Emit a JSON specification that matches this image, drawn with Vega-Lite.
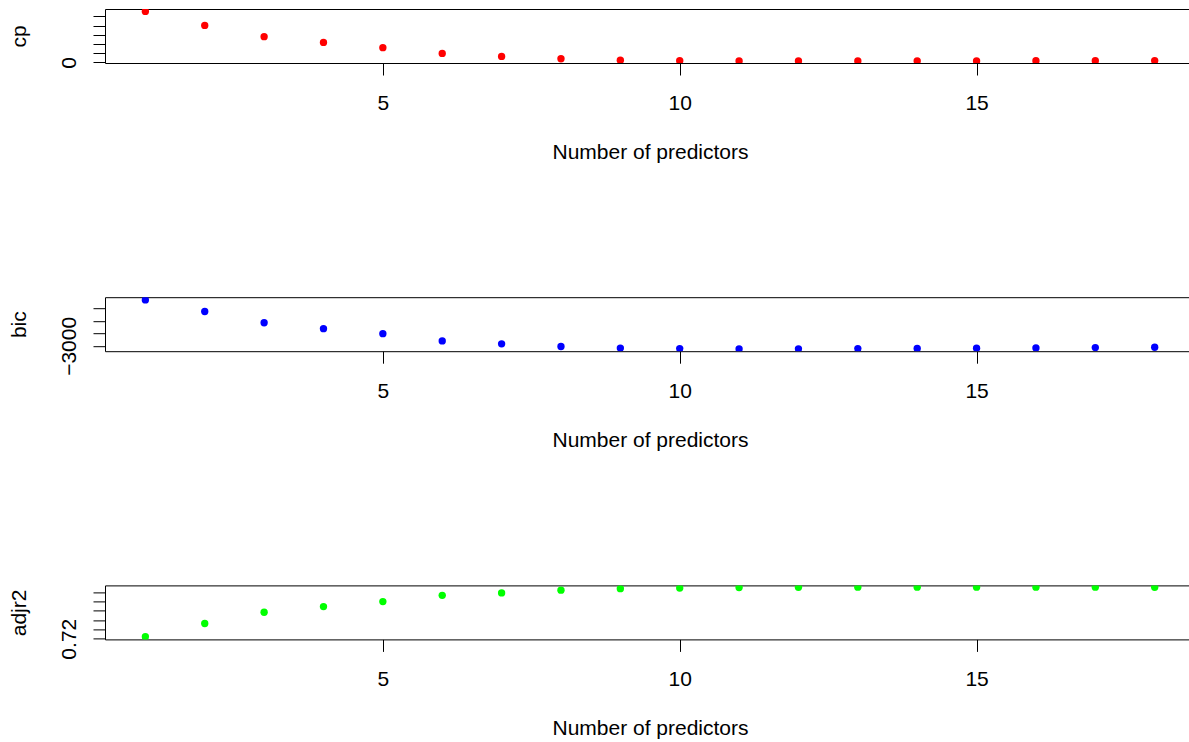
{
  "$schema": "https://vega.github.io/schema/vega-lite/v6.json",
  "background": "white",
  "autosize": {"type": "pad"},
  "padding": {"left": 8, "top": 9, "right": 0, "bottom": 0},
  "config": {
    "view": {"stroke": null},
    "font": "Liberation Sans",
    "axis": {
      "grid": false,
      "domainColor": "black",
      "tickColor": "black",
      "labelColor": "black",
      "titleColor": "black",
      "labelFont": "Liberation Sans",
      "titleFont": "Liberation Sans",
      "labelFontSize": 21,
      "titleFontSize": 21,
      "titleFontWeight": "normal",
      "tickSize": 12,
      "domainWidth": 1,
      "tickWidth": 1,
      "zindex": 1
    }
  },
  "datasets": {
    "d": [
      {"k": 1, "cp": 1109, "bic": -2269, "adjr2": 0.7243},
      {"k": 2, "cp": 804, "bic": -2454, "adjr2": 0.7526},
      {"k": 3, "cp": 559, "bic": -2632, "adjr2": 0.7766},
      {"k": 4, "cp": 435, "bic": -2727, "adjr2": 0.7887},
      {"k": 5, "cp": 320, "bic": -2806, "adjr2": 0.7994},
      {"k": 6, "cp": 196, "bic": -2921, "adjr2": 0.8128},
      {"k": 7, "cp": 130, "bic": -2968, "adjr2": 0.8179},
      {"k": 8, "cp": 80, "bic": -3011, "adjr2": 0.8238},
      {"k": 9, "cp": 48, "bic": -3035, "adjr2": 0.8270},
      {"k": 10, "cp": 37, "bic": -3043, "adjr2": 0.8285},
      {"k": 11, "cp": 33, "bic": -3050, "adjr2": 0.8296},
      {"k": 12, "cp": 30, "bic": -3047, "adjr2": 0.8300},
      {"k": 13, "cp": 30, "bic": -3044, "adjr2": 0.8302},
      {"k": 14, "cp": 31, "bic": -3041, "adjr2": 0.8303},
      {"k": 15, "cp": 32, "bic": -3038, "adjr2": 0.8303},
      {"k": 16, "cp": 35, "bic": -3033, "adjr2": 0.8302},
      {"k": 17, "cp": 37, "bic": -3028, "adjr2": 0.8302},
      {"k": 18, "cp": 39, "bic": -3022, "adjr2": 0.8301}
    ]
  },
  "spacing": 234.2,
  "bounds": "flush",
  "vconcat": [
    {
      "width": 1084,
      "height": 54,
      "data": {"name": "d"},
      "resolve": {"axis": {"x": "independent"}},
      "layer": [
        {
          "mark": {"type": "point", "filled": true, "size": 54, "color": "#FF0000", "opacity": 1, "clip": true},
          "encoding": {
            "x": {"field": "k", "type": "quantitative",
              "scale": {"domain": [0.32, 18.578], "nice": false, "zero": false},
              "axis": {"orient": "bottom", "values": [5, 10, 15], "title": "Number of predictors",
                "labelPadding": 34.5, "labelBaseline": "alphabetic", "labelFlush": false, "labelOverlap": false,
                "titleX": 545, "titleY": 95, "titleAlign": "center", "titleBaseline": "alphabetic", "titleAnchor": "middle"}},
            "y": {"field": "cp", "type": "quantitative",
              "scale": {"domain": [-13, 1161], "nice": false, "zero": false},
              "axis": {"orient": "left", "values": [0, 200, 400, 600, 800, 1000], "labelExpr": "datum.value == 0 ? '0' : ''",
                "labelAngle": 270, "labelAlign": "center", "labelBaseline": "alphabetic", "labelPadding": 18, "labelOverlap": false, "labelFlush": false,
                "title": "cp", "titleX": -80, "titleY": 27, "titleAngle": 270, "titleAlign": "center", "titleBaseline": "alphabetic"}}
          }
        },
        {
          "mark": {"type": "point", "opacity": 0, "clip": true},
          "encoding": {
            "x": {"field": "k", "type": "quantitative", "axis": {"orient": "top", "labels": false, "ticks": false, "title": null, "domain": true}}
          }
        }
      ]
    },
    {
      "width": 1084,
      "height": 54,
      "data": {"name": "d"},
      "resolve": {"axis": {"x": "independent"}},
      "layer": [
        {
          "mark": {"type": "point", "filled": true, "size": 54, "color": "#0000FF", "opacity": 1, "clip": true},
          "encoding": {
            "x": {"field": "k", "type": "quantitative",
              "scale": {"domain": [0.32, 18.578], "nice": false, "zero": false},
              "axis": {"orient": "bottom", "values": [5, 10, 15], "title": "Number of predictors",
                "labelPadding": 34.5, "labelBaseline": "alphabetic", "labelFlush": false, "labelOverlap": false,
                "titleX": 545, "titleY": 95, "titleAlign": "center", "titleBaseline": "alphabetic", "titleAnchor": "middle"}},
            "y": {"field": "bic", "type": "quantitative",
              "scale": {"domain": [-3085, -2226], "nice": false, "zero": false},
              "axis": {"orient": "left", "values": [-3000, -2800, -2600, -2400], "labelExpr": "datum.value == -3000 ? '−3000' : ''",
                "labelAngle": 270, "labelAlign": "center", "labelBaseline": "alphabetic", "labelPadding": 18, "labelOverlap": false, "labelFlush": false,
                "title": "bic", "titleX": -80, "titleY": 27, "titleAngle": 270, "titleAlign": "center", "titleBaseline": "alphabetic"}}
          }
        },
        {
          "mark": {"type": "point", "opacity": 0, "clip": true},
          "encoding": {
            "x": {"field": "k", "type": "quantitative", "axis": {"orient": "top", "labels": false, "ticks": false, "title": null, "domain": true}}
          }
        }
      ]
    },
    {
      "width": 1084,
      "height": 54,
      "data": {"name": "d"},
      "resolve": {"axis": {"x": "independent"}},
      "layer": [
        {
          "mark": {"type": "point", "filled": true, "size": 54, "color": "#00FF00", "opacity": 1, "clip": true},
          "encoding": {
            "x": {"field": "k", "type": "quantitative",
              "scale": {"domain": [0.32, 18.578], "nice": false, "zero": false},
              "axis": {"orient": "bottom", "values": [5, 10, 15], "title": "Number of predictors",
                "labelPadding": 34.5, "labelBaseline": "alphabetic", "labelFlush": false, "labelOverlap": false,
                "titleX": 545, "titleY": 95, "titleAlign": "center", "titleBaseline": "alphabetic", "titleAnchor": "middle"}},
            "y": {"field": "adjr2", "type": "quantitative",
              "scale": {"domain": [0.7185, 0.834], "nice": false, "zero": false},
              "axis": {"orient": "left", "values": [0.72, 0.74, 0.76, 0.78, 0.8, 0.82], "labelExpr": "abs(datum.value - 0.72) < 0.000001 ? '0.72' : ''",
                "labelAngle": 270, "labelAlign": "center", "labelBaseline": "alphabetic", "labelPadding": 18, "labelOverlap": false, "labelFlush": false,
                "title": "adjr2", "titleX": -80, "titleY": 27, "titleAngle": 270, "titleAlign": "center", "titleBaseline": "alphabetic"}}
          }
        },
        {
          "mark": {"type": "point", "opacity": 0, "clip": true},
          "encoding": {
            "x": {"field": "k", "type": "quantitative", "axis": {"orient": "top", "labels": false, "ticks": false, "title": null, "domain": true}}
          }
        }
      ]
    }
  ]
}
